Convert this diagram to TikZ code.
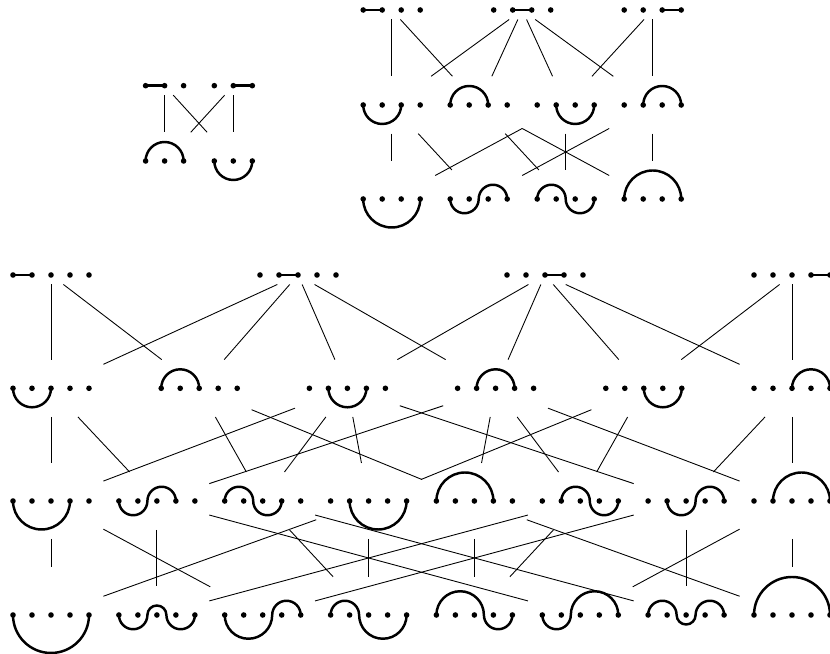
\documentclass[tikz,border=0pt]{standalone}
\tikzset{
  nbox/.style 2 args={rectangle, inner sep=0pt, outer sep=0pt, minimum width={2*(#1)*0.03cm}, minimum height={2*(#2)*0.03cm}},
  arcst/.style={line width=2.1pt},
  barst/.style={line width=2.3pt},
  conn/.style={line width=0.75pt},
}
\newcommand\DgPtsFive{\foreach \q in {-38,-19,0,19,38}{\fill (\q,0) circle[radius=2.8];}}
\newcommand\DgPtsFour{\foreach \q in {-28.5,-9.5,9.5,28.5}{\fill (\q,0) circle[radius=2.8];}}
\newcommand\DgPtsThree{\foreach \q in {-19,0,19}{\fill (\q,0) circle[radius=2.8];}}
\newcommand\DgBar[2]{\draw[barst] (#1,0) -- (#2,0);}
\newcommand\DgCap[2]{\draw[arcst] (#1,0) arc[start angle=180,end angle=0,radius={((#2)-(#1))/2}];}
\newcommand\DgCup[2]{\draw[arcst] (#1,0) arc[start angle=180,end angle=360,radius={((#2)-(#1))/2}];}
\newcommand\DgCupCap[3]{\draw[arcst] (#1,0) arc[start angle=180,end angle=360,radius={((#2)-(#1))/2}] arc[start angle=180,end angle=0,radius={((#3)-(#2))/2}];}
\newcommand\DgCapCup[3]{\draw[arcst] (#1,0) arc[start angle=180,end angle=0,radius={((#2)-(#1))/2}] arc[start angle=180,end angle=360,radius={((#3)-(#2))/2}];}
\newcommand\DgCupCapCup[4]{\draw[arcst] (#1,0) arc[start angle=180,end angle=360,radius={((#2)-(#1))/2}] arc[start angle=180,end angle=0,radius={((#3)-(#2))/2}] arc[start angle=180,end angle=360,radius={((#4)-(#3))/2}];}
\newcommand\DgCapCupCap[4]{\draw[arcst] (#1,0) arc[start angle=180,end angle=0,radius={((#2)-(#1))/2}] arc[start angle=180,end angle=360,radius={((#3)-(#2))/2}] arc[start angle=180,end angle=0,radius={((#4)-(#3))/2}];}
\newcommand\DgNode[6]{%
  \node[nbox={#4}{#5}] (#1) at (#2,#3) {};
  \begin{scope}[shift={(#2,#3)}]#6\end{scope}}
\begin{document}
\begin{tikzpicture}[x=0.03cm,y=0.03cm]
\useasboundingbox (0,0) rectangle (830,654);
% top-left
\DgNode{TLa}{164.6}{568.3}{33.5}{9.5}{\DgPtsThree\DgBar{-19}{0}}
\DgNode{TLb}{233.3}{568.3}{33.5}{9.5}{\DgPtsThree\DgBar{0}{19}}
\DgNode{TLc}{164.6}{493}{33.5}{28.7}{\DgPtsThree\DgCap{-19}{19}}
\DgNode{TLd}{233.3}{493}{33.5}{28.7}{\DgPtsThree\DgCup{-19}{19}}
% top-right
\DgNode{TRa}{391.7}{644}{43.5}{9.5}{\DgPtsFour\DgBar{-28.5}{-9.5}}
\DgNode{TRb}{522.2}{644}{43.5}{9.5}{\DgPtsFour\DgBar{-9.5}{9.5}}
\DgNode{TRc}{652.7}{644}{43.5}{9.5}{\DgPtsFour\DgBar{9.5}{28.5}}
\DgNode{TRd}{391.7}{549}{43.5}{28.7}{\DgPtsFour\DgCup{-28.5}{9.5}}
\DgNode{TRe}{478.7}{549}{43.5}{28.7}{\DgPtsFour\DgCap{-28.5}{9.5}}
\DgNode{TRf}{565.7}{549}{43.5}{28.7}{\DgPtsFour\DgCup{-9.5}{28.5}}
\DgNode{TRg}{652.7}{549}{43.5}{28.7}{\DgPtsFour\DgCap{-9.5}{28.5}}
\DgNode{TRh}{391.7}{455}{43.5}{38}{\DgPtsFour\DgCup{-28.5}{28.5}}
\DgNode{TRi}{478.7}{455}{43.5}{29}{\DgPtsFour\DgCupCap{-28.5}{0}{28.5}}
\DgNode{TRj}{565.7}{455}{43.5}{29}{\DgPtsFour\DgCapCup{-28.5}{0}{28.5}}
\DgNode{TRk}{652.7}{455}{43.5}{38}{\DgPtsFour\DgCap{-28.5}{28.5}}
% big: row 1
\DgNode{Ba}{51}{379}{52.4}{9.5}{\DgPtsFive\DgBar{-38}{-19}}
\DgNode{Bb}{298}{379}{52.4}{9.5}{\DgPtsFive\DgBar{-19}{0}}
\DgNode{Bc}{545}{379}{52.4}{9.5}{\DgPtsFive\DgBar{0}{19}}
\DgNode{Bd}{792}{379}{52.4}{9.5}{\DgPtsFive\DgBar{19}{38}}
% row 2
\DgNode{Ca}{51}{265.7}{52.4}{28.7}{\DgPtsFive\DgCup{-38}{0}}
\DgNode{Cb}{199.2}{265.7}{52.4}{28.7}{\DgPtsFive\DgCap{-38}{0}}
\DgNode{Cc}{347.4}{265.7}{52.4}{28.7}{\DgPtsFive\DgCup{-19}{19}}
\DgNode{Cd}{495.6}{265.7}{52.4}{28.7}{\DgPtsFive\DgCap{-19}{19}}
\DgNode{Ce}{643.8}{265.7}{52.4}{28.7}{\DgPtsFive\DgCup{0}{38}}
\DgNode{Cf}{792}{265.7}{52.4}{28.7}{\DgPtsFive\DgCap{0}{38}}
% row 3
\DgNode{Da}{51}{153}{52.4}{38}{\DgPtsFive\DgCup{-38}{19}}
\DgNode{Db}{156.9}{153}{52.4}{29}{\DgPtsFive\DgCupCap{-38}{-9.5}{19}}
\DgNode{Dc}{262.7}{153}{52.4}{29}{\DgPtsFive\DgCapCup{-38}{-9.5}{19}}
\DgNode{Dd}{368.6}{153}{52.4}{38}{\DgPtsFive\DgCup{-19}{38}}
\DgNode{De}{474.4}{153}{52.4}{38}{\DgPtsFive\DgCap{-38}{19}}
\DgNode{Df}{580.3}{153}{52.4}{29}{\DgPtsFive\DgCapCup{-19}{9.5}{38}}
\DgNode{Dg}{686.1}{153}{52.4}{29}{\DgPtsFive\DgCupCap{-19}{9.5}{38}}
\DgNode{Dh}{792}{153}{52.4}{38}{\DgPtsFive\DgCap{-19}{38}}
% row 4
\DgNode{Ea}{51}{39}{52.4}{47.6}{\DgPtsFive\DgCup{-38}{38}}
\DgNode{Eb}{156.9}{39}{52.4}{28.7}{\DgPtsFive\DgCupCapCup{-38}{-9.5}{9.5}{38}}
\DgNode{Ec}{262.7}{39}{52.4}{38.2}{\DgPtsFive\DgCupCap{-38}{9.5}{38}}
\DgNode{Ed}{368.6}{39}{52.4}{38.2}{\DgPtsFive\DgCapCup{-38}{-9.5}{38}}
\DgNode{Ee}{474.4}{39}{52.4}{38.2}{\DgPtsFive\DgCapCup{-38}{9.5}{38}}
\DgNode{Ef}{580.3}{39}{52.4}{38.2}{\DgPtsFive\DgCupCap{-38}{-9.5}{38}}
\DgNode{Eg}{686.1}{39}{52.4}{28.7}{\DgPtsFive\DgCapCupCap{-38}{-9.5}{9.5}{38}}
\DgNode{Eh}{792}{39}{52.4}{47.6}{\DgPtsFive\DgCap{-38}{38}}
% connectors
\foreach \a/\b in {TLa/TLc,TLa/TLd,TLb/TLc,TLb/TLd,
  TRa/TRd,TRa/TRe,TRb/TRd,TRb/TRe,TRb/TRf,TRb/TRg,TRc/TRf,TRc/TRg,
  TRd/TRh,TRd/TRi,TRe/TRj,TRe/TRk,TRf/TRh,TRf/TRj,TRg/TRi,TRg/TRk,
  Ba/Ca,Ba/Cb,Bb/Ca,Bb/Cb,Bb/Cc,Bb/Cd,Bc/Cc,Bc/Cd,Bc/Ce,Bc/Cf,Bd/Ce,Bd/Cf,
  Ca/Da,Ca/Db,Cb/Dc,Cb/De,Cc/Da,Cc/Dc,Cc/Dd,Cc/Dg,Cd/Db,Cd/De,Cd/Df,Cd/Dh,Ce/Dd,Ce/Df,Cf/Dg,Cf/Dh,
  Da/Ea,Da/Ec,Db/Eb,Db/Ef,Dc/Ed,Dc/Eg,Dd/Ea,Dd/Ed,De/Ee,De/Eh,Df/Eb,Df/Ee,Dg/Ec,Dg/Eg,Dh/Ef,Dh/Eh}
  {\draw[conn] (\a) -- (\b);}
\end{tikzpicture}
\end{document}
